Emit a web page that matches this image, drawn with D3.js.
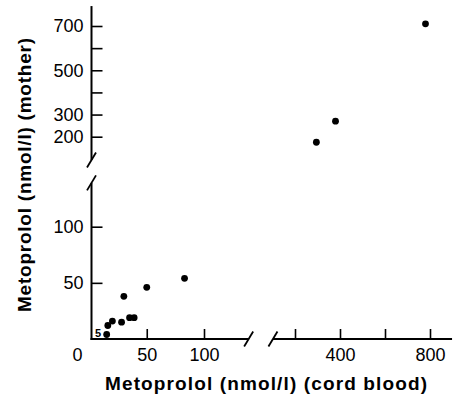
<!DOCTYPE html>
<html><head><meta charset="utf-8">
<script src="https://cdn.jsdelivr.net/npm/d3@7/dist/d3.min.js"></script>
<style>
html,body{margin:0;padding:0;background:#fff;}
svg text{font-family:"Liberation Sans",Arial,Helvetica,sans-serif;fill:#000;}
</style></head>
<body><svg id="c" width="453" height="398"></svg>
<script>
// Data (cord blood x, mother y), nmol/l
const lowCord   = [83, 50, 30, 39, 35, 28, 20, 16, 15];
const lowMother = [54, 46, 38, 19, 19, 15, 16, 12, 4];
const highCord   = [780, 380, 295];
const highMother = [710, 270, 175];
const yHighTicks = [200, 300, 400, 500, 600, 700];
const yHighLabels = [200, 300, 500, 700];
const yLowTicks = [50, 100];
const xLowTicks = [50, 100];
const xHighTicks = [200, 400, 600, 800];
const xHighLabels = [400, 800];

const svg = d3.select("#c");
const xLow = d3.scaleLinear().domain([0, 100]).range([89.5, 204]);
const xHigh = d3.scaleLinear().domain([400, 800]).range([340, 430]);
const yLow = d3.scaleLinear().domain([0, 100]).range([339, 226.7]);
const yHigh = d3.scaleLinear().domain([200, 700]).range([136.7, 26]);
const axX = 91.5, axY = 339;

const fmt = labels => d => labels.includes(d) ? d : "";

function styleAxis(g){
  g.select(".domain").remove();
  g.selectAll(".tick line").attr("stroke","#000").attr("stroke-width",1.6);
  g.selectAll(".tick text").style("font-size","18px").attr("fill","#000");
}

svg.append("g").attr("transform",`translate(${axX},0)`)
  .call(d3.axisLeft(yHigh).tickValues(yHighTicks).tickFormat(fmt(yHighLabels))
        .tickSizeInner(-11).tickSizeOuter(0).tickPadding(8)).call(styleAxis);
svg.append("g").attr("transform",`translate(${axX},0)`)
  .call(d3.axisLeft(yLow).tickValues(yLowTicks).tickFormat(d=>d)
        .tickSizeInner(-11).tickSizeOuter(0).tickPadding(8)).call(styleAxis);
svg.append("g").attr("transform",`translate(0,${axY})`)
  .call(d3.axisBottom(xLow).tickValues(xLowTicks).tickFormat(d=>d)
        .tickSizeInner(-10).tickSizeOuter(0).tickPadding(9)).call(styleAxis);
svg.append("g").attr("transform",`translate(0,${axY})`)
  .call(d3.axisBottom(xHigh).tickValues(xHighTicks).tickFormat(fmt(xHighLabels))
        .tickSizeInner(-10).tickSizeOuter(0).tickPadding(9)).call(styleAxis);

// origin label
svg.append("text").attr("x", xLow(0) - 12).attr("y", axY + 9).attr("dy","0.71em")
  .attr("text-anchor","middle").style("font-size","18px").text("0");

// axis lines (segments)
const ax = svg.append("g").attr("stroke","#000").attr("stroke-width",2).attr("fill","none");
ax.append("line").attr("x1",axX).attr("x2",axX).attr("y1",yHigh(790)).attr("y2",yHigh(95));
ax.append("line").attr("x1",axX).attr("x2",axX).attr("y1",yLow(139)).attr("y2",axY+1);
ax.append("line").attr("x1",axX-1).attr("x2",xLow(139)).attr("y1",axY).attr("y2",axY);
ax.append("line").attr("x1",xHigh(102)).attr("x2",xHigh(898)).attr("y1",axY).attr("y2",axY);
// break marks
function slash(cx, cy){
  ax.append("line").attr("x1",cx-4.5).attr("y1",cy+7.5).attr("x2",cx+4.5).attr("y2",cy-7.5)
    .attr("stroke-width",1.8);
}
slash(axX, yHigh(95));
slash(axX, yLow(139));
slash(xLow(139), axY);
slash(xHigh(102), axY);

// points
const pts = svg.append("g");
pts.selectAll("circle.low").data(lowCord).enter().append("circle").attr("class","low")
  .attr("cx",(d)=>xLow(d)).attr("cy",(d,i)=>yLow(lowMother[i])).attr("r",3.4).attr("fill","#000");
pts.selectAll("circle.high").data(highCord).enter().append("circle").attr("class","high")
  .attr("cx",(d)=>xHigh(d)).attr("cy",(d,i)=>yHigh(highMother[i])).attr("r",3.4).attr("fill","#000");

// small "5" label
svg.append("text").attr("x", xLow(7.5)).attr("y", yLow(5)).attr("dy","0.35em")
  .attr("text-anchor","middle").style("font-size","11px").style("font-weight","bold").text("5");

// titles
svg.append("text").attr("x", 266).attr("y", 390).attr("text-anchor","middle")
  .style("font-size","19px").style("font-weight","bold")
  .attr("textLength", 322).attr("lengthAdjust","spacing")
  .text("Metoprolol (nmol/l) (cord blood)");
svg.append("text").attr("transform","translate(31,175) rotate(-90)").attr("text-anchor","middle")
  .style("font-size","19px").style("font-weight","bold")
  .attr("textLength", 274).attr("lengthAdjust","spacing")
  .text("Metoprolol (nmol/l) (mother)");
</script></body></html>
